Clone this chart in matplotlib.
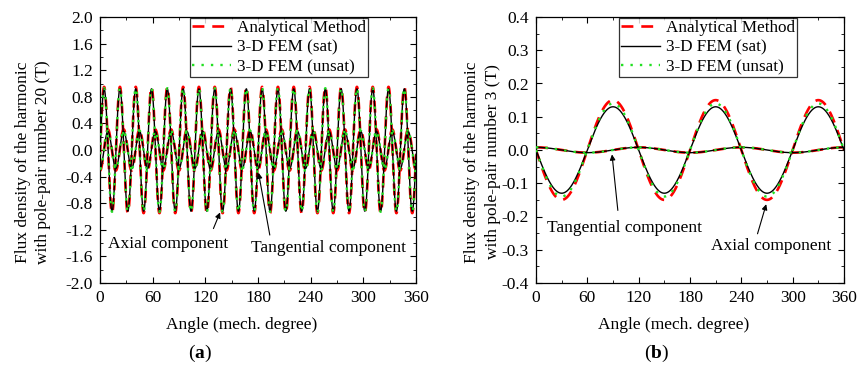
import numpy as np
import matplotlib
matplotlib.use("Agg")
import matplotlib.pyplot as plt
from matplotlib.ticker import MultipleLocator, FormatStrFormatter

plt.rcParams['font.family'] = ['Liberation Serif', 'DejaVu Serif']
plt.rcParams['mathtext.fontset'] = 'custom'
plt.rcParams['mathtext.rm'] = 'Liberation Serif'
plt.rcParams['mathtext.bf'] = 'Liberation Serif:bold'

# harmonic amplitudes (T): analytical, FEM sat, FEM unsat
series_names = ["Analytical Method", "3-D FEM (sat)", "3-D FEM (unsat)"]
# panel (a): pole-pair number 20
a_pole_pairs = 20
a_axial_amp = [0.95, 0.92, 0.93]
a_axial_peak_deg = 4.7          # angle of the first axial peak
a_tang_amp = [0.31, 0.28, 0.29]
a_tang_peak_deg = 9.0           # angle of the first tangential peak
# panel (b): pole-pair number 3
b_pole_pairs = 3
b_axial_amp = [0.15, 0.13, 0.14]
b_axial_peak_deg = 90.0
b_tang_amp = [0.008, 0.008, 0.008]
b_tang_peak_deg = 0.0

styles = [
    dict(color='red', ls=(0, (4.5, 3)), lw=1.9, zorder=2),
    dict(color='black', ls='-', lw=1.0, zorder=3),
    dict(color='#22e022', ls=(0, (1, 3)), lw=1.7, zorder=4),
]

theta = np.linspace(0, 360, 3001)


def harmonic(amp, p, peak):
    return amp * np.cos(np.radians(p * (theta - peak)))


fig = plt.figure(figsize=(8.57, 3.70), dpi=100)
ax1 = fig.add_axes([100 / 857, 87 / 370, 316 / 857, 266 / 370])
ax2 = fig.add_axes([536 / 857, 87 / 370, 308 / 857, 266 / 370])

for i in range(3):
    ax1.plot(theta, harmonic(a_axial_amp[i], a_pole_pairs, a_axial_peak_deg),
             label=series_names[i], **styles[i])
    ax1.plot(theta, harmonic(a_tang_amp[i], a_pole_pairs, a_tang_peak_deg), **styles[i])
    ax2.plot(theta, harmonic(b_axial_amp[i], b_pole_pairs, b_axial_peak_deg),
             label=series_names[i], **styles[i])
    ax2.plot(theta, harmonic(b_tang_amp[i], b_pole_pairs, b_tang_peak_deg), **styles[i])

ax1.set_ylim(-2.0, 2.0)
ax1.yaxis.set_major_locator(MultipleLocator(0.4))
ax1.yaxis.set_minor_locator(MultipleLocator(0.2))
ax1.yaxis.set_major_formatter(FormatStrFormatter('%.1f'))
ax2.set_ylim(-0.4, 0.4)
ax2.yaxis.set_major_locator(MultipleLocator(0.1))
ax2.yaxis.set_minor_locator(MultipleLocator(0.05))
ax2.yaxis.set_major_formatter(FormatStrFormatter('%.1f'))

for ax, p, lx in [(ax1, 20, -0.155), (ax2, 3, -0.115)]:
    ax.set_xlim(0, 360)
    ax.xaxis.set_major_locator(MultipleLocator(60))
    ax.xaxis.set_minor_locator(MultipleLocator(30))
    ax.tick_params(which='both', direction='in', top=True, right=True,
                   labelsize=12.5, pad=5)
    ax.tick_params(which='major', length=4, width=0.8)
    ax.tick_params(which='minor', length=2, width=0.6)
    for s in ax.spines.values():
        s.set_linewidth(0.9)
    ax.set_ylabel("Flux density of the harmonic\nwith pole-pair number %d (T)" % p,
                  fontsize=12.5, linespacing=1.35)
    ax.yaxis.set_label_coords(lx, 0.455)
    leg = ax.legend(loc='upper right', bbox_to_anchor=(0.848, 0.995), fontsize=12.3,
                    frameon=True, fancybox=False, edgecolor='black',
                    handlelength=2.3, borderpad=0.12, labelspacing=0.2,
                    handletextpad=0.35, borderaxespad=0.0)
    leg.get_frame().set_linewidth(0.9)

fig.text(242 / 857, 1 - 325 / 370, "Angle (mech. degree)", ha='center', va='center', fontsize=12.5)
fig.text(674 / 857, 1 - 325 / 370, "Angle (mech. degree)", ha='center', va='center', fontsize=12.5)
fig.text(200 / 857, 1 - 353 / 370, r"($\mathbf{a}$)", ha='center', va='center', fontsize=14)
fig.text(657 / 857, 1 - 353 / 370, r"($\mathbf{b}$)", ha='center', va='center', fontsize=14)

arrow = dict(arrowstyle='-|>', color='black', lw=0.8, mutation_scale=8)
ax1.annotate("", xy=(138, -0.90), xytext=(128, -1.22), arrowprops=arrow)
ax1.text(78, -1.41, "Axial component", ha='center', va='center', fontsize=12.5)
ax1.annotate("", xy=(180, -0.30), xytext=(194, -1.32), arrowprops=arrow)
ax1.text(260, -1.47, "Tangential component", ha='center', va='center', fontsize=12.5)

ax2.annotate("", xy=(88.5, -0.005), xytext=(96, -0.19), arrowprops=arrow)
ax2.text(103, -0.236, "Tangential component", ha='center', va='center', fontsize=12.5)
ax2.annotate("", xy=(270, -0.155), xytext=(258, -0.26), arrowprops=arrow)
ax2.text(275, -0.29, "Axial component", ha='center', va='center', fontsize=12.5)

fig.savefig("out.png", dpi=100)
